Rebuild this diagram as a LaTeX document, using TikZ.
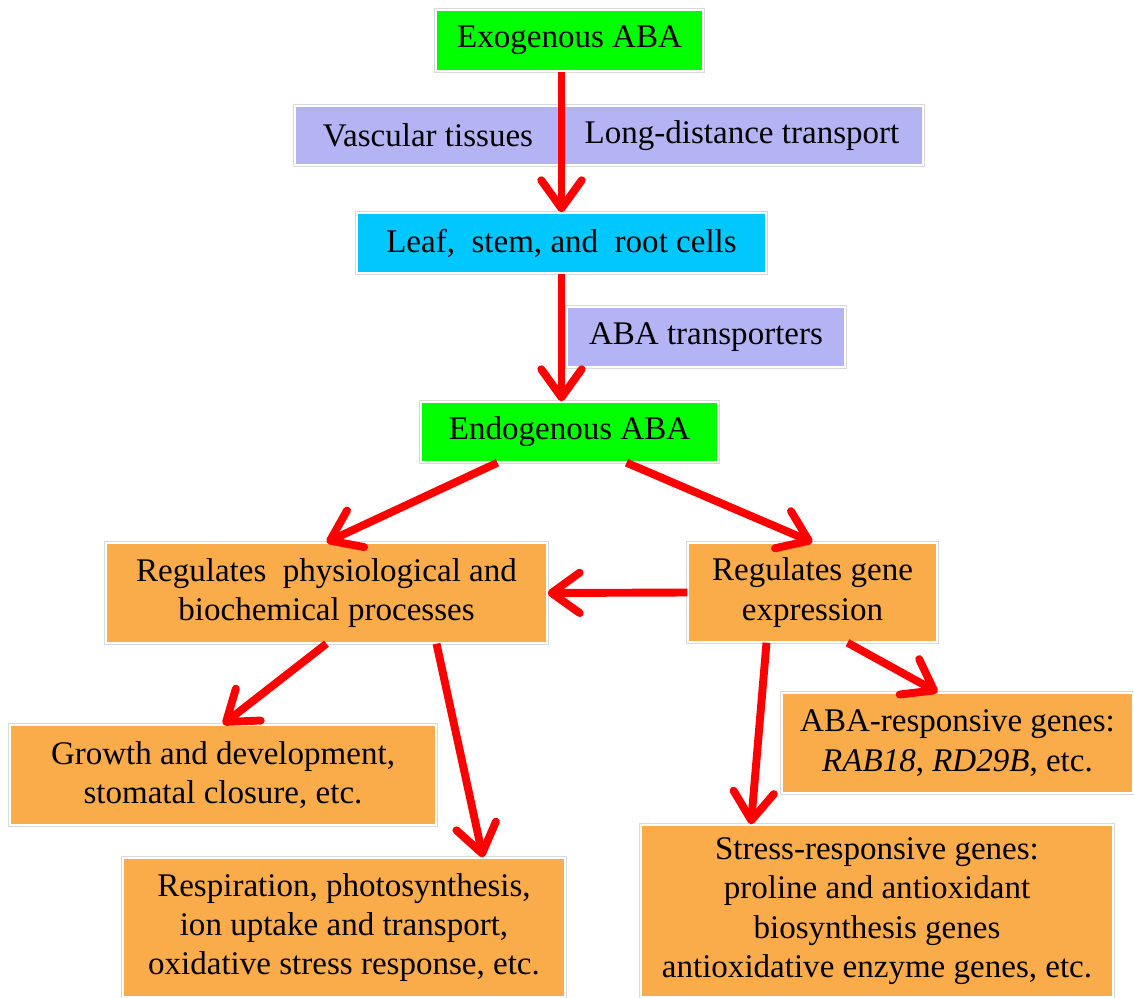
\documentclass[tikz,border=0pt]{standalone}
\usepackage{fontspec}
\setmainfont{Liberation Serif}
\usetikzlibrary{arrows.meta,calc}
\definecolor{abagreen}{RGB}{0,255,0}
\definecolor{abalilac}{RGB}{180,180,245}
\definecolor{abacyan}{RGB}{0,200,255}
\definecolor{abaorange}{RGB}{250,172,75}
\definecolor{abared}{RGB}{255,0,0}
\begin{document}
\begin{tikzpicture}[x=0.02cm,y=-0.02cm,
  txt/.style={inner sep=0pt,align=center,font=\fontsize{18.8}{22.4}\selectfont},
  box/.style={txt,fill=#1,draw=white,line width=0.8pt,preaction={draw=black!15,line width=2.6pt}},
  arr/.style={draw=abared,line width=4.5pt,-{Straight Barb[length=16pt,width=23pt,round]}}]
  \useasboundingbox (0,0) rectangle (1134,998);
  % top chain
  \node[box=abagreen,minimum width=5.34cm,minimum height=1.22cm] (exo) at (569.5,40.5) {Exogenous ABA};
  \node[box=abalilac,minimum width=12.56cm,minimum height=1.18cm] (vasc) at (609,135.5) {};
  \node[txt] (vascl) at (428,135.5) {Vascular tissues};
  \node[txt] (vascr) at (742,135.5) {Long-distance transport};
  \node[box=abacyan,minimum width=8.18cm,minimum height=1.2cm] (leaf) at (561.5,243) {Leaf,\ \ stem, and\ \ root cells};
  \node[box=abalilac,minimum width=5.56cm,minimum height=1.2cm] (trans) at (706,337) {ABA transporters};
  \node[box=abagreen,minimum width=5.94cm,minimum height=1.2cm] (endo) at (569.5,432) {Endogenous ABA};
  % responses
  \node[box=abaorange,minimum width=8.82cm,minimum height=2cm] (phys) at (326.5,593) {Regulates\ \ physiological and\\biochemical processes};
  \node[box=abaorange,minimum width=4.98cm,minimum height=1.98cm] (gene) at (812.5,592.5) {Regulates gene\\expression};
  \node[box=abaorange,minimum width=8.52cm,minimum height=2cm] (growth) at (223,775) {Growth and development,\\stomatal closure, etc.};
  \node[box=abaorange,minimum width=8.84cm,minimum height=2.78cm] (resp) at (344,927.5) {Respiration, photosynthesis,\\ion uptake and transport,\\oxidative stress response, etc.};
  \node[box=abaorange,minimum width=7.02cm,minimum height=2cm] (aba) at (957.5,743) {ABA-responsive genes:\\\textit{RAB18}, \textit{RD29B}, etc.};
  \node[box=abaorange,minimum width=9.44cm,minimum height=3.44cm] (stress) at (877,911) {Stress-responsive genes:\\proline and antioxidant\\biosynthesis genes\\antioxidative enzyme genes, etc.};
  % arrows
  \draw[arr] (leaf.north |- exo.south) -- (leaf.north);
  \draw[arr] (leaf.south) -- (leaf.south |- endo.north);
  \draw[arr] ($(endo.south)+(-72,0)$) -- (phys.north);
  \draw[arr] ($(endo.south)+(57,0)$) -- (gene.north);
  \foreach \a/\b in {gene.west/phys.east,phys.south/growth.north} % straight links
    \draw[arr] (\a) -- (\b);
  \draw[arr] ($(phys.south)+(110,0)$) -- ($(resp.north)+(139,0)$);
  \draw[arr] ($(gene.south)+(-46,0)$) -- ($(stress.north)+(-126,0)$);
  \draw[arr] ($(gene.south)+(35,0)$) -- ($(aba.north)+(-20,0)$);
\end{tikzpicture}
\end{document}
